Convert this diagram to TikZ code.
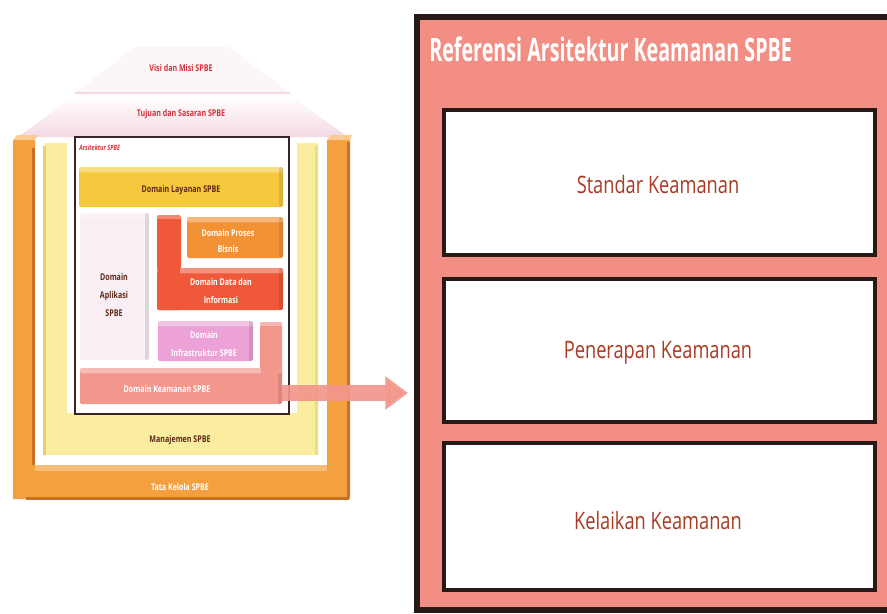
\documentclass[tikz,border=0pt]{standalone}
\usepackage{fontspec}
\setmainfont{Open Sans}
\newfontfamily\labelfont[FakeStretch=0.76]{Open Sans}
\newfontfamily\boxfont[FakeStretch=0.76]{Open Sans}
\usetikzlibrary{fit,shadows,arrows.meta}

\definecolor{tkorange}{RGB}{244,160,62}
\definecolor{tkorangedark}{RGB}{200,112,35}
\definecolor{mjyellow}{RGB}{250,237,160}
\definecolor{mjyellowdark}{RGB}{232,205,115}
\definecolor{roofpink}{RGB}{253,246,249}
\definecolor{roofedge}{RGB}{245,216,228}
\definecolor{archline}{RGB}{55,35,40}
\definecolor{layanan}{RGB}{246,200,62}
\definecolor{aplikasi}{RGB}{248,238,244}
\definecolor{datainfo}{RGB}{239,88,56}
\definecolor{proses}{RGB}{243,146,52}
\definecolor{infra}{RGB}{236,162,214}
\definecolor{keamanan}{RGB}{243,150,140}
\definecolor{panelsalmon}{RGB}{242,142,131}
\definecolor{panelborder}{RGB}{40,25,25}
\definecolor{labelred}{RGB}{214,50,60}
\definecolor{labeldark}{RGB}{95,40,25}
\definecolor{boxtext}{RGB}{170,58,35}

\begin{document}
\begin{tikzpicture}[x=0.75pt,y=-0.75pt,
  box/.style={inner sep=0pt, outer sep=0pt},
  block/.style={box, rounded corners=1.5pt, path picture={
      \fill[white,opacity=0.35] (path picture bounding box.north west)
        rectangle ([yshift=-4pt]path picture bounding box.north east);
      \fill[black,opacity=0.10] ([xshift=-3pt]path picture bounding box.north east)
        rectangle (path picture bounding box.south east);}},
  smalltxt/.style={font=\labelfont\bfseries\fontsize{7}{13.5}\selectfont, align=center, inner sep=0pt},
  inbox/.style={box, fill=white, draw=panelborder, line width=2.4pt,
      drop shadow={shadow xshift=1pt, shadow yshift=-1.5pt, opacity=0.45}},
  boxlabel/.style={font=\boxfont\fontsize{18}{20}\selectfont, text=boxtext, inner sep=0pt},
  flow/.style={keamanan, opacity=0.92, line width=12.5pt,
      -{Triangle[length=17pt,width=24pt]}}
]
\fill[white] (0,0) rectangle (887,613);
\useasboundingbox (0,0) rectangle (887,613);

% --- roof: vision/mission and goals ---
\fill[roofpink] (135,47) -- (228,47) -- (290,93) -- (75,93) -- cycle;
\draw[roofedge, line width=1.2pt] (75,93) -- (290,93);
\shade[top color=white, bottom color=roofedge] (75,96) -- (290,96) -- (348,137) -- (18,137) -- cycle;
\node[smalltxt, text=labelred] (visi) at (181,68) {Visi dan Misi SPBE};
\node[smalltxt, text=labelred] (tujuan) at (181,114) {Tujuan dan Sasaran SPBE};

% --- governance frame ---
\fill[tkorange] (13,140) -- (35,140) -- (35,465) -- (327,465) -- (327,140)
  -- (350,140) -- (350,499) -- (13,499) -- cycle;
\fill[tkorange!55!white] (13,140) -- (17,135) -- (38,135) -- (35,140) -- cycle;
\fill[tkorange!55!white] (327,140) -- (331,135) -- (352,135) -- (350,140) -- cycle;
\fill[tkorangedark] (32,148) rectangle (35,465);
\fill[tkorangedark] (347,142) rectangle (350,497);
\fill[tkorange!70!white] (35,465) rectangle (327,471);
\fill[tkorangedark] (26,497) rectangle (349,500);
\node[smalltxt, text=white] (tatakelola) at (180,487) {Tata Kelola SPBE};

% --- management frame ---
\fill[mjyellow] (45,143) -- (67,143) -- (67,413) -- (297,413) -- (297,143)
  -- (318,143) -- (318,455) -- (43,455) -- cycle;
\fill[mjyellowdark] (43,146) rectangle (46,455);
\fill[mjyellowdark!60!mjyellow] (315,146) rectangle (318,455);
\node[smalltxt, text=labeldark] (manajemen) at (180,440) {Manajemen SPBE};

% --- architecture domains ---
\node[box, draw=archline, line width=1.4pt, fill=white, fit={(75,137)(289,414)}] (arsitektur) {};
\node[smalltxt, text=labelred, anchor=west, font=\labelfont\bfseries\itshape\fontsize{5.5}{7}\selectfont]
  (arsitekturlabel) at (79,148) {Arsitektur SPBE};

\node[block, fill=layanan, fit={(79,167)(283,207)}] (layanan) {};
\node[smalltxt, text=labeldark] (layananlabel) at (181,190) {Domain Layanan SPBE};

\node[block, fill=aplikasi, fit={(80,213)(149,360)}] (aplikasi) {};
\node[smalltxt, text=labeldark] (aplikasilabel) at (114,295) {Domain\\Aplikasi\\SPBE};

\fill[datainfo, rounded corners=1.5pt] (157,215) rectangle (181,310);
\fill[white, opacity=0.3] (157,215) rectangle (181,219);
\node[block, fill=datainfo, fit={(157,268)(283,310)}] (datainfo) {};
\fill[datainfo] (158,266) rectangle (180,275);
\node[smalltxt, text=white] (datainfolabel) at (221,291) {Domain Data dan\\Informasi};

\node[block, fill=proses, fit={(187,217)(283,258)}] (proses) {};
\node[smalltxt, text=white, font=\labelfont\bfseries\fontsize{7}{12.5}\selectfont] (proseslabel) at (228,241) {Domain Proses\\Bisnis};

\node[block, fill=infra, fit={(158,321)(253,361)}] (infra) {};
\node[smalltxt, text=white, font=\labelfont\bfseries\fontsize{7}{13}\selectfont] (infralabel) at (204,344) {Domain\\Infrastruktur SPBE};

\fill[keamanan, rounded corners=1.5pt] (260,322) rectangle (282,380);
\fill[white, opacity=0.3] (260,322) rectangle (282,326);
\node[block, fill=keamanan, fit={(80,368)(282,404)}] (keamanan) {};
\fill[keamanan] (261,366) rectangle (279,374);
\node[smalltxt, text=white] (keamananlabel) at (167,389) {Domain Keamanan SPBE};

% --- security reference panel ---
\node[box, fill=panelsalmon, draw=panelborder, line width=4pt, fit={(417,17)(900,610)}] (panel) {};
\node[anchor=base west, inner sep=0pt, text=white] (paneltitle) at (429,62)
  {\resizebox{272pt}{18.5pt}{\bfseries Referensi Arsitektur Keamanan SPBE}};
\node[inbox, fit={(444,110)(875,255)}] (standar) {};
\node[inbox, fit={(444,279)(875,422)}] (penerapan) {};
\node[inbox, fit={(444,443)(875,590)}] (kelaikan) {};
\node[boxlabel] (standarlabel) at (658,184) {Standar Keamanan};
\node[boxlabel] (penerapanlabel) at (658,353) {Penerapan Keamanan};
\node[boxlabel] (kelaikanlabel) at (658,520) {Kelaikan Keamanan};

% --- link from the security domain to its reference panel ---
\coordinate (arrowtip) at (408,393);
\draw[flow] (keamanan.east |- arrowtip) -- (arrowtip);
\end{tikzpicture}
\end{document}
